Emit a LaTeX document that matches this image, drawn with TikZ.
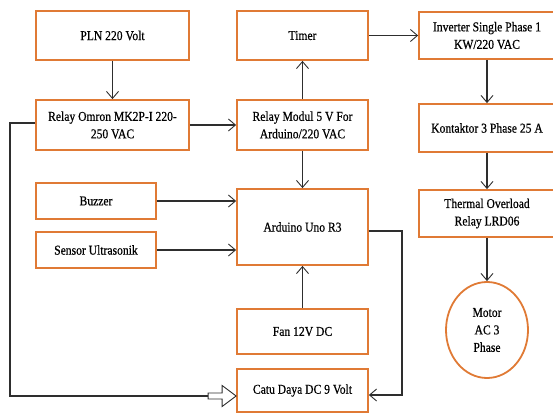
\documentclass[tikz,border=0pt]{standalone}
\usepackage{fontspec}
\setmainfont{Liberation Serif}[FakeStretch=0.86,FakeBold=0.6]
\usetikzlibrary{arrows.meta,shapes.geometric}
\definecolor{boxorange}{HTML}{E07A35}
\definecolor{linegray}{HTML}{2E2E2E}
\tikzset{
  blk/.style={draw=boxorange, line width=1.8pt, rectangle, align=center,
    inner sep=1pt, font=\fontsize{13.5}{17.5}\selectfont},
  conn/.style={draw=linegray, line width=1.1pt, -{Straight Barb[length=7pt,width=12pt,line width=0.9pt]}},
  wire/.style={draw=linegray, line width=1.1pt},
}
\begin{document}
\begin{tikzpicture}[x=1pt,y=-1pt]
\useasboundingbox (0,0) rectangle (553,414);
% boxes
\node[blk, minimum width=153pt, minimum height=49pt] (pln) at (112.5,35.5) {PLN 220 Volt};
\node[blk, minimum width=153pt, minimum height=50pt] (omron) at (112.5,125) {Relay Omron MK2P-I 220-\\250 VAC};
\node[blk, minimum width=131pt, minimum height=49pt] (timer) at (302.5,35.5) {Timer};
\node[blk, minimum width=131pt, minimum height=50pt] (modul) at (302.5,125) {Relay Modul 5 V For\\Arduino/220 VAC};
\node[blk, minimum width=136pt, minimum height=47pt] (inv) at (487,35.5) {Inverter Single Phase 1\\KW/220 VAC};
\node[blk, minimum width=136pt, minimum height=48pt] (kont) at (487,128) {Kontaktor 3 Phase 25 A};
\node[blk, minimum width=136pt, minimum height=47pt] (thermal) at (487,213.5) {Thermal Overload\\Relay LRD06};
\node[blk, ellipse, minimum width=82pt, minimum height=96pt, inner sep=0pt] (motor) at (487,330) {Motor\\AC 3\\Phase};
\node[blk, minimum width=120pt, minimum height=36pt] (buzzer) at (96,201) {Buzzer};
\node[blk, minimum width=120pt, minimum height=36pt] (sensor) at (96,250) {Sensor Ultrasonik};
\node[blk, minimum width=131pt, minimum height=76pt] (arduino) at (302.5,227) {Arduino Uno R3};
\node[blk, minimum width=131pt, minimum height=45pt] (fan) at (302.5,331.5) {Fan 12V DC};
\node[blk, minimum width=131pt, minimum height=43pt] (catu) at (302.5,390.5) {Catu Daya DC 9 Volt};
% connectors
\draw[conn] (pln) -- (omron);
\draw[conn] (omron) -- (modul);
\draw[conn] (modul) -- (timer);
\draw[conn] (modul) -- (arduino);
\draw[conn] (timer) -- (inv);
\draw[conn] (inv) -- (kont);
\draw[conn] (kont) -- (thermal);
\draw[conn] (thermal) -- (motor);
\draw[conn] (buzzer) -- (buzzer -| arduino.west);
\draw[conn] (sensor) -- (sensor -| arduino.west);
\draw[conn] (fan) -- (arduino);
% Arduino to Catu Daya
\coordinate (aout) at ([yshift=-4pt]arduino.east);
\coordinate (cin) at ([yshift=-4.5pt]catu.east);
\draw[conn] (aout) -- (402,231) |- (cin);
% Relay Omron loop to Catu Daya with hollow arrow
\coordinate (oout) at ([yshift=2pt]omron.west);
\coordinate (cw) at ([yshift=-5.5pt]catu.west);
\draw[wire] (oout) -- (10,123) |- ([xshift=-28pt]cw);
\draw[draw=linegray, line width=0.9pt, fill=white]
  ([xshift=-28pt,yshift=-3pt]cw) -- ([xshift=-14pt,yshift=-3pt]cw) -- ([xshift=-14pt,yshift=-10.5pt]cw)
  -- (cw) -- ([xshift=-14pt,yshift=10.5pt]cw) -- ([xshift=-14pt,yshift=3pt]cw)
  -- ([xshift=-28pt,yshift=3pt]cw) -- cycle;
\end{tikzpicture}
\end{document}
